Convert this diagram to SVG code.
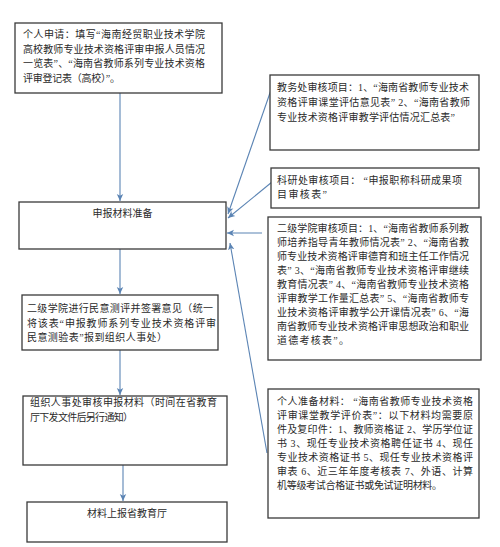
<svg xmlns="http://www.w3.org/2000/svg" width="500" height="547" viewBox="0 0 500 547">
<defs>
<style>
.box{fill:#fff;stroke:#3a3a3a;stroke-width:1.3}
.t{font-family:"Liberation Serif","Noto Sans CJK SC",serif;font-size:10px;fill:#2a2a2a}
.c{stroke:#5b84b4;stroke-width:1.1;fill:none}
</style>
<marker id="ah" markerWidth="8" markerHeight="8" refX="7" refY="4" orient="auto" markerUnits="userSpaceOnUse">
<path d="M0,0.8 L7,4 L0,7.2 L1.8,4 Z" fill="#5b84b4"/>
</marker>
</defs>
<rect width="500" height="547" fill="#fff"/>
<g id="connectors">
<line class="c" x1="120" y1="93" x2="120" y2="201" marker-end="url(#ah)"/>
<line class="c" x1="120" y1="249" x2="120" y2="294" marker-end="url(#ah)"/>
<line class="c" x1="120" y1="350" x2="120" y2="395" marker-end="url(#ah)"/>
<line class="c" x1="123" y1="465" x2="123" y2="501" marker-end="url(#ah)"/>
<line class="c" x1="271" y1="90" x2="228" y2="214" marker-end="url(#ah)"/>
<line class="c" x1="272" y1="182" x2="228" y2="218" marker-end="url(#ah)"/>
<line class="c" x1="262" y1="233" x2="227" y2="233" marker-end="url(#ah)"/>
<line class="c" x1="267" y1="453" x2="230" y2="243" marker-end="url(#ah)"/>
</g>
<g id="n1">
<rect class="box" x="15" y="23" width="207" height="70"/>
<text class="t" lengthAdjust="spacing"><tspan x="23" y="38" textLength="182">个人申请：填写“海南经贸职业技术学院</tspan><tspan x="23" y="52.5" textLength="182">高校教师专业技术资格评审申报人员情况</tspan><tspan x="23" y="67" textLength="182">一览表”、“海南省教师系列专业技术资格</tspan><tspan x="23" y="81.5" textLength="97">评审登记表（高校）”。</tspan></text>
</g>
<g id="nA">
<rect class="box" x="270" y="75" width="209" height="75"/>
<text class="t"><tspan x="277" y="91" textLength="192">教务处审核项目：1、“海南省教师专业技术</tspan><tspan x="277" y="106" textLength="193">资格评审课堂评估意见表” 2、“海南省教师</tspan><tspan x="277" y="121" textLength="178">专业技术资格评审教学评估情况汇总表”</tspan></text>
</g>
<g id="nB">
<rect class="box" x="271" y="168" width="208" height="40"/>
<text class="t"><tspan x="277" y="184" textLength="185">科研处审核项目：  “申报职称科研成果项</tspan><tspan x="277" y="198" textLength="50">目审核表”</tspan></text>
</g>
<g id="nC">
<rect class="box" x="268" y="217" width="213" height="143"/>
<text class="t"><tspan x="277" y="232" textLength="192">二级学院审核项目：1、“海南省教师系列教</tspan><tspan x="277" y="246" textLength="192">师培养指导青年教师情况表” 2、“海南省教</tspan><tspan x="277" y="260" textLength="192">师专业技术资格评审德育和班主任工作情况</tspan><tspan x="277" y="274" textLength="192">表” 3、“海南省教师专业技术资格评审继续</tspan><tspan x="277" y="288" textLength="192">教育情况表” 4、“海南省教师专业技术资格</tspan><tspan x="277" y="302" textLength="192">评审教学工作量汇总表” 5、“海南省教师专</tspan><tspan x="277" y="316" textLength="192">业技术资格评审教学公开课情况表” 6、“海</tspan><tspan x="277" y="330" textLength="192">南省教师专业技术资格评审思想政治和职业</tspan><tspan x="277" y="344" textLength="72">道德考核表”。</tspan></text>
</g>
<g id="n2">
<rect class="box" x="19" y="202" width="207" height="47"/>
<text class="t" x="122.5" y="216.5" text-anchor="middle">申报材料准备</text>
</g>
<g id="n3">
<rect class="box" x="22" y="295" width="196" height="55"/>
<text class="t"><tspan x="27" y="312" textLength="186">二级学院进行民意测评并签署意见（统一</tspan><tspan x="27" y="326.5" textLength="189">将该表“申报教师系列专业技术资格评审</tspan><tspan x="27" y="341" textLength="140">民意测验表”报到组织人事处）</tspan></text>
</g>
<g id="nD">
<rect class="box" x="268" y="389" width="211" height="129"/>
<text class="t"><tspan x="277" y="405" textLength="196">个人准备材料：  “海南省教师专业技术资格</tspan><tspan x="277" y="419" textLength="196">评审课堂教学评价表”：以下材料均需要原</tspan><tspan x="277" y="433" textLength="196">件及复印件：1、教师资格证 2、学历学位证</tspan><tspan x="277" y="447" textLength="196">书 3、现任专业技术资格聘任证书 4、现任</tspan><tspan x="277" y="461" textLength="196">专业技术资格证书 5、现任专业技术资格评</tspan><tspan x="277" y="475" textLength="196">审表 6、近三年年度考核表 7、外语、计算</tspan><tspan x="277" y="489" textLength="165">机等级考试合格证书或免试证明材料。</tspan></text>
</g>
<g id="n4">
<rect class="box" x="23" y="396" width="204" height="69"/>
<text class="t"><tspan x="30" y="406" textLength="187">组织人事处审核申报材料（时间在省教育</tspan><tspan x="30" y="421" textLength="103">厅下发文件后另行通知）</tspan></text>
</g>
<g id="n5">
<rect class="box" x="27" y="502" width="200" height="40"/>
<text class="t" x="127" y="517" text-anchor="middle">材料上报省教育厅</text>
</g>
</svg>
